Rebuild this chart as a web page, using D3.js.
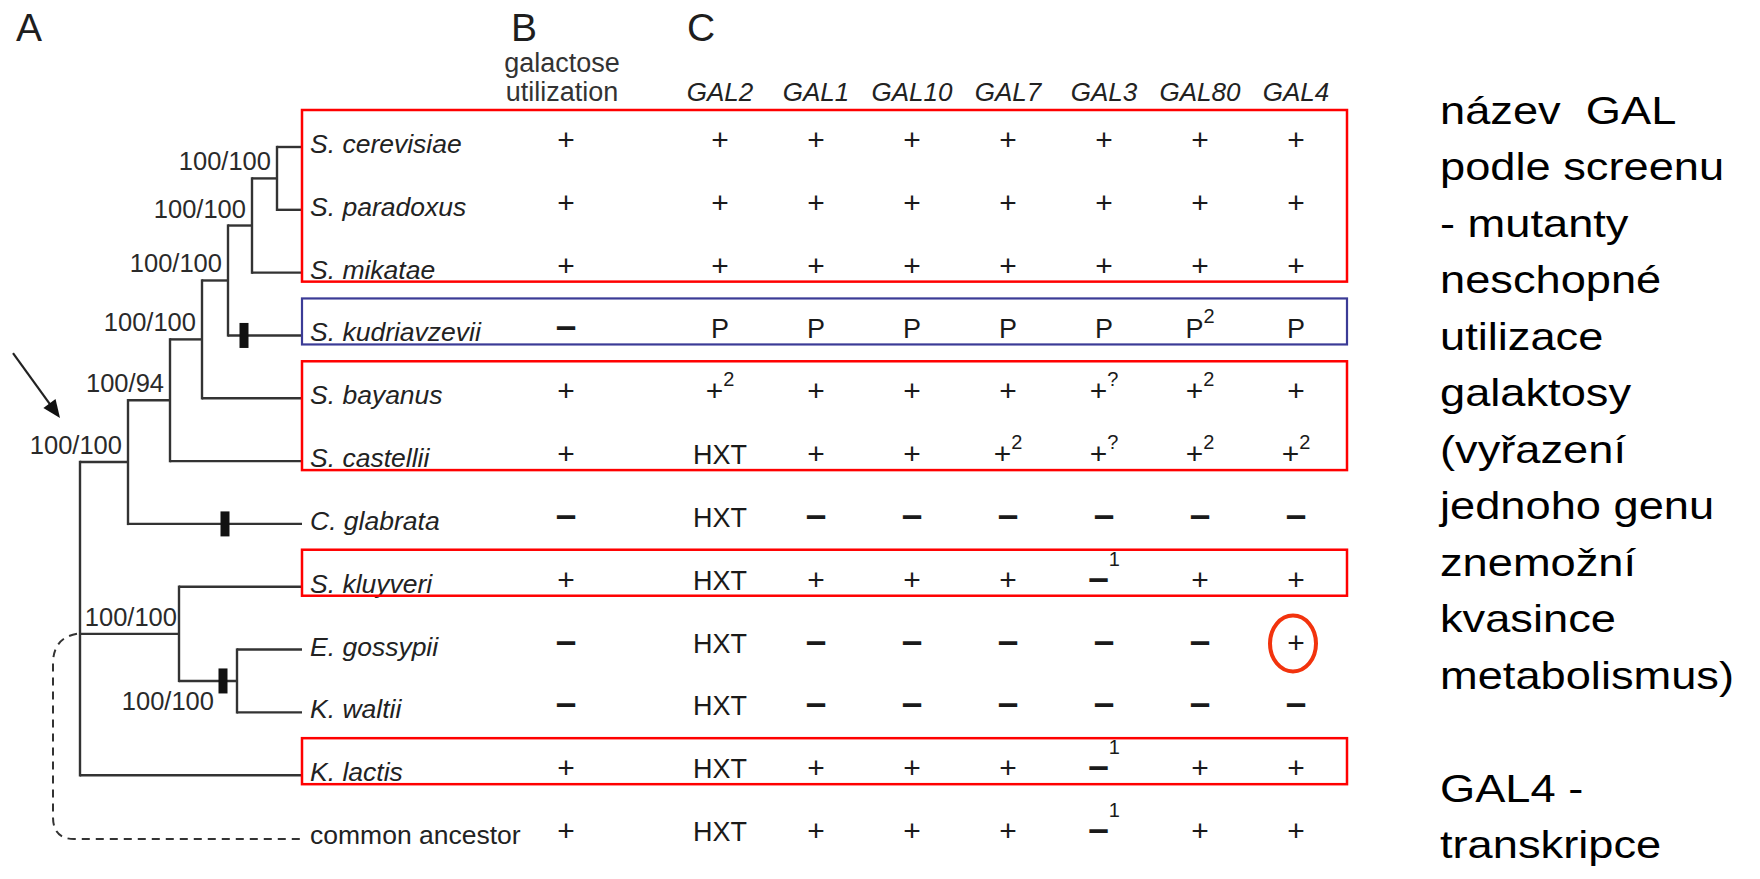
<!DOCTYPE html>
<html>
<head>
<meta charset="utf-8">
<script src="https://cdn.jsdelivr.net/npm/d3@7"></script>
<style>
  body { margin: 0; background: #fff; }
  svg text { font-family: "Liberation Sans", Arial, sans-serif; }
</style>
</head>
<body>
<svg id="chart" width="1760" height="879"></svg>
<script>
// species rows, top to bottom
const species = ["S. cerevisiae", "S. paradoxus", "S. mikatae", "S. kudriavzevii", "S. bayanus",
  "S. castellii", "C. glabrata", "S. kluyveri", "E. gossypii", "K. waltii", "K. lactis", "common ancestor"];
const speciesParent = ["cp", "cp", "m", "k", "b", "c", "g", "kew", "ew", "ew", "root", null];

// internal clades of the tree (branch length in tree units, support values)
const cladeIds = ["g", "c", "b", "k", "m", "cp", "kew", "ew"];
const cladeParent = ["root", "g", "c", "b", "k", "m", "root", "kew"];
const cladeLength = [48, 42, 32, 26, 24, 25, 99, 58];
const cladeSupport = ["100/100", "100/94", "100/100", "100/100", "100/100", "100/100", "100/100", "100/100"];
const tipDepth = 222;

// gene loss marks (black bars) on branches
const lossBranch = ["S. kudriavzevii", "C. glabrata", "ew"];
const lossDepth = [164, 145, 143];

// table columns
const genes = ["GAL2", "GAL1", "GAL10", "GAL7", "GAL3", "GAL80", "GAL4"];
const galUtil = ["+", "+", "+", "-", "+", "+", "-", "+", "-", "-", "+", "+"];
const geneCalls = [
  ["+", "+", "+", "+", "+", "+", "+"],
  ["+", "+", "+", "+", "+", "+", "+"],
  ["+", "+", "+", "+", "+", "+", "+"],
  ["P", "P", "P", "P", "P", "P^2", "P"],
  ["+^2", "+", "+", "+", "+^?", "+^2", "+"],
  ["HXT", "+", "+", "+^2", "+^?", "+^2", "+^2"],
  ["HXT", "-", "-", "-", "-", "-", "-"],
  ["HXT", "+", "+", "+", "-^1", "+", "+"],
  ["HXT", "-", "-", "-", "-", "-", "+"],
  ["HXT", "-", "-", "-", "-", "-", "-"],
  ["HXT", "+", "+", "+", "-^1", "+", "+"],
  ["HXT", "+", "+", "+", "-^1", "+", "+"]
];

// highlight boxes (row ranges) and circled cell
const redBoxes = [["S. cerevisiae", "S. mikatae"], ["S. bayanus", "S. castellii"], ["S. kluyveri", "S. kluyveri"], ["K. lactis", "K. lactis"]];
const blueBoxes = [["S. kudriavzevii", "S. kudriavzevii"]];
const circled = ["E. gossypii", "GAL4"];

const notes = ["název  GAL", "podle screenu", "- mutanty", "neschopné", "utilizace", "galaktosy",
  "(vyřazení", "jednoho genu", "znemožní", "kvasince", "metabolismus)", "", "GAL4 -", "transkripce"];

const svg = d3.select('#chart');
const ink = '#1e1e1e';

svg.append('rect').attr('width', 1760).attr('height', 879).attr('fill', '#fff');

// scales
const rowY = d3.scalePoint().domain(species).range([140, 831]);
const xTree = d3.scaleLinear().domain([0, tipDepth]).range([80, 302]);
const colX = d3.scalePoint().domain(genes).range([720, 1296]);
const utilX = 566;

// panel letters
[["A", 16], ["B", 511], ["C", 687]].forEach(([t, x]) => {
  svg.append('text').attr('x', x).attr('y', 41).attr('font-size', 39).attr('fill', ink).text(t);
});

// build tree
let table = [{ id: "root", parentId: null, len: 0 }];
cladeIds.forEach((id, i) => table.push({ id: id, parentId: cladeParent[i], len: cladeLength[i], support: cladeSupport[i] }));
species.forEach((s, i) => { if (speciesParent[i]) table.push({ id: s, parentId: speciesParent[i], leaf: true }); });
const root = d3.stratify().id(d => d.id).parentId(d => d.parentId)(table);

root.eachBefore(n => {
  n.dl = !n.parent ? 0 : (n.data.leaf ? tipDepth : n.parent.dl + n.data.len);
  n.px = xTree(n.dl);
});
root.eachAfter(n => {
  if (n.data.leaf) n.py = rowY(n.id) + 7;
  else {
    const ys = n.children.map(c => c.py);
    n.py = (d3.min(ys) + d3.max(ys)) / 2;
  }
});

const branches = svg.append('g').attr('stroke', '#333').attr('stroke-width', 2.4).attr('fill', 'none');
root.descendants().filter(n => n.parent).forEach(n => {
  branches.append('line').attr('x1', n.parent.px).attr('x2', n.px).attr('y1', n.py).attr('y2', n.py);
});
root.descendants().filter(n => n.children).forEach(n => {
  const ys = n.children.map(c => c.py);
  branches.append('line').attr('x1', n.px).attr('x2', n.px).attr('y1', d3.min(ys) - 1.2).attr('y2', d3.max(ys) + 1.2);
});

// support values
root.descendants().filter(n => n.data.support).forEach(n => {
  let x = n.px - 6, y = n.py - 8;
  if (n.id === "kew") x = n.px - 2;
  if (n.id === "ew") { x = n.px - 23; y = n.py + 29; }
  svg.append('text').attr('x', x).attr('y', y).attr('text-anchor', 'end')
    .attr('font-size', 25.5).attr('fill', '#2a2a2a').text(n.data.support);
});

// gene loss bars
lossBranch.forEach((b, i) => {
  const n = root.find(d => d.id === b);
  svg.append('rect').attr('x', xTree(lossDepth[i]) - 4.5).attr('y', n.py - 12.5)
    .attr('width', 9).attr('height', 25).attr('fill', '#111');
});

// dashed line to common ancestor
const kew = root.find(d => d.id === "kew");
const ancY = rowY("common ancestor") + 8;
const rx = root.px;
svg.append('path')
  .attr('d', `M${rx - 3},${kew.py} Q${rx - 27},${kew.py + 4} ${rx - 27},${kew.py + 30} L${rx - 27},${ancY - 22} Q${rx - 27},${ancY} ${rx - 6},${ancY} L${xTree(tipDepth)},${ancY}`)
  .attr('fill', 'none').attr('stroke', '#333').attr('stroke-width', 2).attr('stroke-dasharray', '8,6');

// arrow pointing at the root
const g = root.find(d => d.id === "g");
const tip = [rx - 20, g.py - 44], tail = [rx - 67, g.py - 109];
const dx = tip[0] - tail[0], dy = tip[1] - tail[1], L = Math.hypot(dx, dy);
const ux = dx / L, uy = dy / L;
svg.append('line').attr('x1', tail[0]).attr('y1', tail[1])
  .attr('x2', tip[0] - ux * 12).attr('y2', tip[1] - uy * 12)
  .attr('stroke', '#222').attr('stroke-width', 2.2);
svg.append('path')
  .attr('d', `M${tip[0]},${tip[1]} L${tip[0] - ux * 18 - uy * 7.5},${tip[1] - uy * 18 + ux * 7.5} L${tip[0] - ux * 18 + uy * 7.5},${tip[1] - uy * 18 - ux * 7.5}Z`)
  .attr('fill', '#111');

// species labels
svg.selectAll('text.sp').data(species).enter().append('text')
  .attr('class', 'sp')
  .attr('x', xTree(tipDepth) + 8)
  .attr('y', d => rowY(d) + 13)
  .attr('font-size', 26.5)
  .attr('font-style', d => d === "common ancestor" ? 'normal' : 'italic')
  .attr('fill', '#222')
  .text(d => d);

// column headers
svg.append('text').attr('x', utilX - 4).attr('y', 72).attr('text-anchor', 'middle').attr('font-size', 27).attr('fill', '#333').text('galactose');
svg.append('text').attr('x', utilX - 4).attr('y', 101).attr('text-anchor', 'middle').attr('font-size', 27).attr('fill', '#333').text('utilization');
svg.selectAll('text.gh').data(genes).enter().append('text')
  .attr('class', 'gh').attr('x', d => colX(d)).attr('y', 101)
  .attr('text-anchor', 'middle').attr('font-size', 26).attr('font-style', 'italic').attr('fill', '#222')
  .text(d => d);

// cells
function cell(x, y, v) {
  const parts = v.split('^');
  const t = svg.append('text').attr('x', x).attr('y', y + 10).attr('text-anchor', 'middle').attr('fill', '#1a1a1a');
  if (parts[0] === '-') {
    t.append('tspan').attr('font-size', 37).attr('font-weight', 'bold').text('–');
  } else {
    t.append('tspan').attr('font-size', parts[0] === '+' ? 30 : 27).text(parts[0]);
  }
  if (parts[1]) {
    t.append('tspan').attr('font-size', 20).attr('dy', parts[0] === '-' ? -24 : -15).text(parts[1]);
  }
}
species.forEach((s, i) => {
  cell(utilX, rowY(s), galUtil[i]);
  genes.forEach((gn, j) => cell(colX(gn), rowY(s), geneCalls[i][j]));
});

// highlight boxes
const boxLeft = xTree(tipDepth), boxRight = 1347;
function box(r, color, w) {
  const top = rowY(r[0]) - 30, bottom = rowY(r[1]) + 16;
  svg.append('rect').attr('x', boxLeft).attr('y', top).attr('width', boxRight - boxLeft).attr('height', bottom - top)
    .attr('fill', 'none').attr('stroke', color).attr('stroke-width', w);
}
redBoxes.forEach(r => box(r, '#f00', 2.5));
blueBoxes.forEach(r => box(r, '#3b3b96', 2.2));

svg.append('ellipse').attr('cx', colX(circled[1]) - 3).attr('cy', rowY(circled[0]) + 1)
  .attr('rx', 23).attr('ry', 28).attr('fill', 'none').attr('stroke', '#f2330d').attr('stroke-width', 4);

// notes on the right
const noteG = svg.append('g').attr('transform', 'translate(1440,0) scale(1.16,1)');
notes.forEach((t, i) => {
  noteG.append('text').attr('x', 0).attr('y', 124 + i * 56.5).attr('font-size', 39)
    .attr('fill', '#000').style('white-space', 'pre').text(t);
});
</script>
</body>
</html>
